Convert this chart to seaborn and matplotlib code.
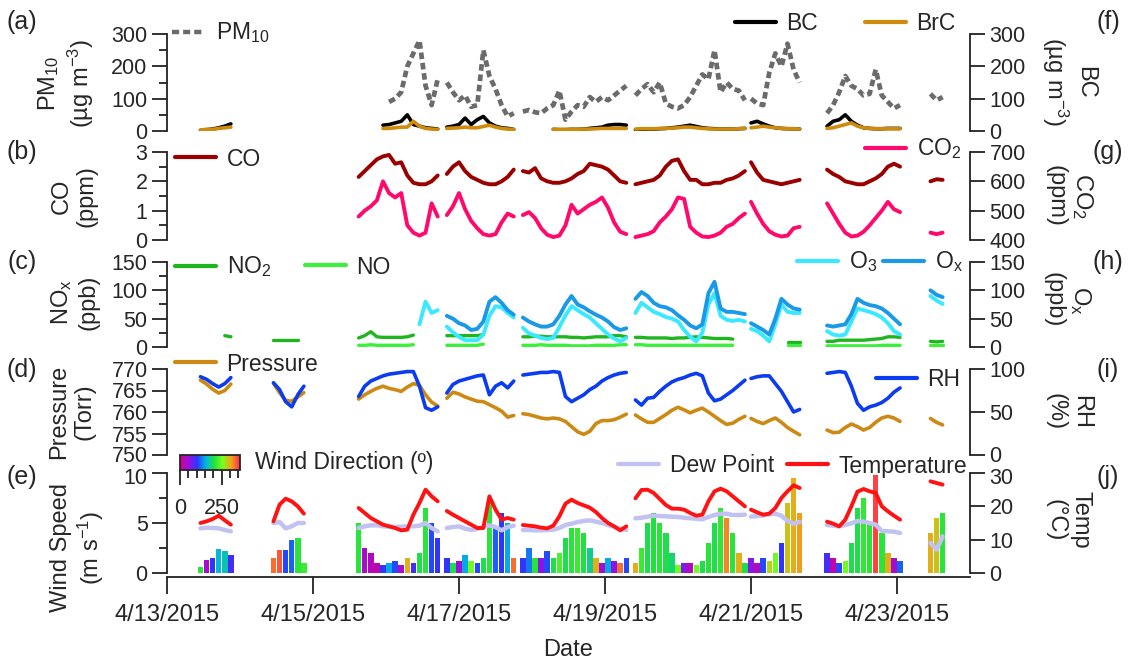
import numpy as np
import pandas as pd
import matplotlib
matplotlib.use("Agg")
import matplotlib.pyplot as plt
import matplotlib.dates as mdates
from matplotlib.colors import LinearSegmentedColormap, Normalize
from matplotlib.cm import ScalarMappable
from matplotlib.lines import Line2D
from matplotlib.ticker import MultipleLocator, FixedLocator, FixedFormatter
import seaborn as sns

nan = np.nan

# ---------------- data (2-hour samples within measurement segments) ----------------
seg_start_hour = [11, 35, 63, 92, 117, 154, 192, 217, 251]   # hours after 4/13/2015 00:00
seg_length = [6, 6, 14, 12, 18, 19, 9, 13, 3]
step_hours = 2

pm10 = ([nan]*6 + [nan]*6 +
        [nan, nan, nan, nan, nan, 90, 100, 120, 200, 240, 280, 140, 80, 160] +
        [150, 120, 95, 110, 75, 80, 250, 170, 130, 80, 45, 55] +
        [60, 65, 58, 55, 70, 80, 125, 35, 60, 80, 75, 105, 90, 105, 95, 110, 125, 140] +
        [110, 130, 145, 120, 150, 85, 75, 70, 80, 105, 140, 175, 160, 250, 120, 150, 130, 125, 95] +
        [100, 85, 80, 180, 240, 200, 270, 190, 150] +
        [55, 80, 120, 170, 140, 130, 110, 115, 190, 110, 90, 70, 80] +
        [115, 95, 105])
bc = ([2, 4, 6, 10, 15, 22] + [nan]*6 +
      [nan]*4 + [18, 20, 25, 30, 50, 20, 15, 10, 8, 6] +
      [12, 15, 20, 40, 20, 35, 45, 25, 15, 10, 8, 5] +
      [nan]*5 + [5, 4, 4, 5, 5, 6, 8, 10, 12, 18, 20, 20, 18] +
      [4, 5, 6, 6, 7, 8, 10, 12, 15, 18, 14, 10, 8, 7, 6, 6, 6, 7, 8] +
      [25, 30, 22, 15, 10, 8, 7, 7, 6] +
      [15, 30, 35, 50, 30, 18, 10, 8, 7, 7, 8, 8, 8] +
      [nan]*3)
brc = ([3, 5, 5, 8, 10, 12] + [nan]*6 +
       [nan]*4 + [8, 8, 10, 12, 12, 30, 15, 8, 6, 5] +
       [8, 9, 10, 12, 10, 10, 14, 18, 12, 8, 6, 5] +
       [nan]*5 + [5, 5, 5, 5, 5, 6, 6, 7, 8, 8, 8, 8, 8] +
       [6, 7, 7, 7, 8, 8, 9, 10, 12, 12, 10, 8, 7, 6, 6, 6, 6, 7, 8] +
       [10, 12, 15, 12, 10, 8, 7, 7, 6] +
       [8, 10, 15, 20, 25, 15, 10, 8, 7, 7, 7, 7, 7] +
       [nan]*3)
co = ([nan]*6 + [nan]*6 +
      [2.15, 2.35, 2.55, 2.75, 2.85, 2.9, 2.6, 2.65, 2.2, 1.95, 1.9, 1.9, 2.0, 2.2] +
      [2.25, 2.5, 2.65, 2.35, 2.15, 2.05, 1.95, 1.9, 1.9, 2.0, 2.15, 2.4] +
      [2.35, 2.3, 2.45, 2.1, 2.0, 1.95, 1.95, 2.0, 2.1, 2.25, 2.35, 2.6, 2.55, 2.5, 2.4, 2.2, 2.0, 1.95] +
      [1.9, 1.95, 2.0, 2.05, 2.2, 2.5, 2.7, 2.75, 2.35, 2.05, 2.05, 1.9, 1.9, 1.95, 1.95, 2.05, 2.1, 2.2, 2.35] +
      [2.65, 2.3, 2.05, 2.0, 1.95, 1.9, 1.95, 2.0, 2.05] +
      [2.4, 2.25, 2.15, 2.0, 1.95, 1.9, 1.9, 2.0, 2.1, 2.25, 2.5, 2.6, 2.5] +
      [2.0, 2.07, 2.05])
co2 = ([nan]*6 + [nan]*6 +
       [480, 500, 515, 535, 600, 560, 545, 560, 450, 425, 415, 425, 525, 480] +
       [485, 515, 560, 505, 465, 440, 420, 415, 420, 460, 490, 480] +
       [485, 495, 475, 440, 418, 410, 415, 450, 520, 490, 505, 520, 530, 545, 510, 460, 428, 420] +
       [410, 415, 420, 430, 460, 480, 505, 545, 540, 445, 425, 412, 410, 415, 425, 445, 455, 475, 490] +
       [530, 490, 455, 430, 418, 412, 415, 440, 445] +
       [525, 490, 455, 425, 412, 415, 428, 450, 475, 500, 530, 505, 495] +
       [425, 420, 425])
no2 = ([nan, nan, nan, nan, 20, 18] + [12, 12, 12, 12, 12, nan] +
       [16, 20, 27, 18, 17, 17, 17, 17, 18, 21, nan, nan, nan, nan] +
       [20, 20, 20, 20, 20, 20, 22, nan, nan, nan, nan, 8] +
       [18, 18, 19, 19, 18, 18, 18, 18, 17, 17, 16, 17, 18, 18, 18, 20, 20, 18] +
       [17, 17, 16, 16, 16, 16, 15, 16, 16, 17, 18, 17, 16, 15, 15, 15, 14, nan, nan] +
       [nan]*6 + [8, 8, 8] +
       [10, 10, 12, 12, 12, 12, 12, 13, 14, 15, 18, 18, 17] +
       [10, 9, 10])
no = ([nan]*6 + [nan]*6 +
      [3, 3, 4, 3, 3, 3, 3, 3, 3, 4, nan, nan, nan, nan] +
      [3, 3, 3, 3, 3, 3, 5, nan, nan, nan, nan, 4] +
      [3, 3, 3, 4, 3, 3, 3, 3, 2, 2, 2, 2, 3, 3, 3, 3, 4, 4] +
      [4, 4, 3, 3, 3, 3, 3, 3, 3, 3, 3, 3, 3, 3, 3, 3, 3, nan, nan] +
      [nan]*6 + [3, 3, 3] +
      [2, 2, 2, 2, 2, 2, 2, 2, 2, 3, 3, 3, 3] +
      [4, 4, 4])
o3 = ([nan]*6 + [nan]*6 +
      [nan]*10 + [40, 80, 60, 65] +
      [36, 26, 18, 12, 12, 12, 22, 55, 72, 70, 60, 52] +
      [34, 24, 20, 16, 14, 16, 35, 56, 72, 65, 58, 52, 42, 32, 22, 15, 10, 16] +
      [60, 78, 70, 62, 58, 53, 50, 45, 30, 18, 10, 25, 75, 95, 55, 48, 46, 48, 45] +
      [32, 28, 20, 10, 40, 75, 62, 60, 60] +
      [28, 22, 20, 22, 45, 68, 65, 62, 58, 52, 42, 28, 22] +
      [90, 82, 76])
ox = ([nan]*6 + [nan]*6 +
      [nan]*14 +
      [55, 50, 42, 38, 30, 32, 45, 80, 88, 78, 65, 57] +
      [52, 45, 40, 36, 36, 40, 55, 75, 90, 75, 70, 63, 57, 52, 45, 35, 30, 33] +
      [85, 97, 90, 78, 72, 70, 65, 56, 48, 38, 33, 40, 95, 115, 68, 62, 62, 60, 58] +
      [42, 36, 30, 22, 50, 85, 75, 68, 66] +
      [38, 36, 38, 40, 58, 85, 78, 74, 72, 68, 60, 50, 40] +
      [100, 92, 88])
pressure = ([767.4, 766.5, 765.3, 764.4, 765.0, 766.5] +
            [766.7, 764.5, 762.7, 762.5, 763.5, 764.5] +
            [763.0, 764.0, 764.8, 765.5, 766.0, 765.5, 765.2, 764.8, 765.8, 766.6, 766.2, 764.0, 762.3, 761.4] +
            [763.2, 764.6, 764.2, 763.5, 763.0, 762.5, 762.4, 761.7, 761.0, 760.2, 758.8, 759.2] +
            [759.6, 759.4, 759.0, 758.6, 758.4, 758.6, 758.4, 757.8, 756.6, 755.4, 754.8, 755.5, 757.3, 758.0, 758.0, 758.2, 758.8, 759.5] +
            [759.3, 758.4, 757.6, 757.6, 758.5, 759.4, 760.4, 761.1, 760.5, 759.8, 760.4, 760.9, 760.0, 759.0, 758.0, 757.1, 757.4, 758.3, 759.0] +
            [758.5, 757.8, 757.3, 758.0, 758.6, 757.6, 756.4, 755.5, 754.7] +
            [755.8, 755.2, 755.3, 756.4, 757.2, 756.6, 755.8, 756.4, 757.6, 758.6, 759.0, 758.6, 757.8] +
            [758.5, 757.6, 757.0])
rh = ([91, 88, 83, 79, 83, 90] + [84, 76, 62, 56, 70, 80] +
      [68, 80, 86, 89, 92, 94, 95, 96, 97, 97, 80, 55, 52, 56] +
      [72, 82, 86, 88, 90, 92, 93, 70, 80, 84, 78, 86] +
      [93, 94, 95, 96, 96, 97, 96, 68, 62, 66, 70, 76, 80, 86, 90, 93, 95, 96] +
      [64, 58, 66, 67, 74, 80, 85, 88, 90, 93, 95, 92, 72, 63, 65, 70, 75, 81, 87] +
      [89, 91, 92, 92, 83, 74, 62, 50, 53] +
      [95, 96, 97, 96, 80, 60, 52, 56, 58, 61, 66, 73, 78] +
      [nan]*3)
temperature = ([15.0, 15.5, 16.2, 17.2, 15.8, 14.5] + [15.5, 20.5, 22.3, 21.5, 20.0, 17.8] +
               [19.5, 18.0, 16.5, 15.5, 14.5, 14.0, 13.5, 12.8, 13.0, 17.5, 21.0, 25.0, 23.0, 21.5] +
               [18.6, 17.5, 16.5, 15.5, 14.5, 13.5, 13.5, 23.0, 19.0, 16.0, 16.5, 16.0] +
               [14.4, 14.2, 14.0, 13.6, 13.4, 14.2, 17.0, 20.8, 22.0, 21.0, 20.3, 19.6, 18.3, 16.5, 15.0, 14.0, 12.8, 14.0] +
               [22.4, 24.9, 25.0, 24.0, 22.2, 20.4, 19.3, 19.3, 19.0, 18.0, 17.2, 17.5, 21.5, 24.5, 25.3, 24.5, 23.0, 21.5, 20.0] +
               [19.0, 18.2, 17.5, 17.8, 19.5, 22.5, 24.5, 26.3, 25.5] +
               [15.4, 14.8, 14.0, 16.0, 20.0, 24.4, 25.2, 24.5, 24.0, 20.0, 18.5, 17.2, 16.0] +
               [27.5, 27.0, 26.5])
dew_point = ([13.4, 13.6, 13.5, 13.4, 12.9, 12.5] + [15.0, 15.3, 13.4, 14.0, 15.0, 15.0] +
             [13.5, 14.0, 14.3, 14.3, 14.0, 13.9, 13.8, 13.9, 14.0, 14.0, 14.2, 15.0, 13.5, 12.5] +
             [13.5, 13.8, 14.0, 13.3, 12.9, 13.2, 13.8, 14.3, 13.8, 12.8, 13.8, 14.2] +
             [12.9, 12.9, 12.8, 12.8, 12.9, 13.0, 13.5, 14.4, 14.8, 15.3, 15.6, 15.8, 15.4, 15.0, 14.4, 13.8, 13.2, 12.9] +
             [16.4, 16.6, 16.9, 17.2, 17.1, 17.0, 16.9, 16.8, 16.6, 16.4, 16.3, 16.1, 16.8, 17.4, 17.8, 17.8, 17.4, 17.4, 17.5] +
             [16.9, 17.1, 17.2, 17.6, 17.8, 17.2, 15.6, 14.8, 15.3] +
             [14.4, 14.2, 14.0, 14.4, 14.9, 15.6, 15.4, 15.0, 14.5, 12.6, 12.5, 12.4, 12.0] +
             [9.0, 7.0, 11.0])
wind_speed = ([0.6, 1.3, 1.5, 2.4, 2.2, 1.8] + [1.5, 2.3, 2.3, 3.3, 3.5, 1.0] +
              [5.0, 2.5, 2.0, 1.0, 0.8, 1.0, 1.2, 0.8, 1.5, 1.0, 2.0, 6.5, 5.0, 3.5] +
              [1.5, 1.0, 1.2, 1.8, 1.2, 1.0, 1.5, 7.0, 4.5, 6.0, 5.0, 1.5] +
              [1.5, 2.5, 1.5, 1.5, 2.2, 1.5, 2.0, 3.5, 4.5, 4.5, 4.0, 2.5, 1.5, 1.0, 1.5, 1.2, 1.0, 1.5] +
              [1.0, 2.5, 5.0, 6.0, 5.0, 4.0, 2.0, 0.8, 1.0, 1.0, 0.8, 1.2, 3.0, 5.0, 6.5, 5.5, 4.0, 2.0, 1.0] +
              [1.5, 1.0, 1.5, 1.2, 2.0, 3.0, 7.0, 9.5, 6.0] +
              [2.0, 1.5, 1.0, 1.2, 3.0, 6.5, 7.5, 5.0, 9.8, 4.0, 2.0, 1.5, 1.2] +
              [4.0, 5.5, 6.0])
wind_dir = ([210, 40, 100, 160, 170, 90] + [330, 340, 110, 120, 210, 220] +
            [210, 40, 30, 20, 100, 150, 110, 40, 300, 90, 200, 210, 110, 100] +
            [100, 200, 50, 150, 250, 110, 200, 210, 120, 100, 150, 330] +
            [100, 130, 210, 60, 110, 200, 230, 200, 210, 220, 205, 180, 300, 40, 150, 60, 330, 110] +
            [300, 220, 200, 205, 210, 200, 190, 250, 60, 30, 250, 200, 210, 200, 215, 320, 210, 300, 200] +
            [60, 30, 110, 280, 250, 100, 290, 300, 310] +
            [90, 20, 110, 250, 200, 200, 215, 210, 350, 210, 300, 40, 120] +
            [300, 290, 210])

date_ticks = ["2015-04-13", "2015-04-15", "2015-04-17", "2015-04-19", "2015-04-21", "2015-04-23"]

# ---------------- assemble table ----------------
hours, seg = [], []
for i, (s, n) in enumerate(zip(seg_start_hour, seg_length)):
    for k in range(n):
        hours.append(s + step_hours * k)
        seg.append(i)
t0 = pd.Timestamp("2015-04-13")
series = dict(PM10=pm10, BC=bc, BrC=brc, CO=co, CO2=co2, NO2=no2, NO=no, O3=o3, Ox=ox,
              P=pressure, RH=rh, T=temperature, DP=dew_point, WS=wind_speed, WD=wind_dir)
for k, v in series.items():
    assert len(v) == len(hours), (k, len(v), len(hours))
df = pd.DataFrame(series)
df["time"] = t0 + pd.to_timedelta(hours, unit="h")
df["seg"] = seg

# ---------------- style ----------------
sns.set_theme(style="ticks")
plt.rcParams["font.family"] = ["Liberation Sans", "DejaVu Sans"]
plt.rcParams["mathtext.fontset"] = "custom"
plt.rcParams["mathtext.rm"] = "Liberation Sans"
plt.rcParams["mathtext.it"] = "Liberation Sans"
plt.rcParams["mathtext.default"] = "regular"
FS = 17
TFS = 15.5
SP = "#222222"

W, H = 1129, 664
fig = plt.figure(figsize=(W / 100, H / 100), dpi=100)


def fx(px):
    return px / W


def fy(py):
    return 1 - py / H


def panel(top, bottom):
    return fig.add_axes([fx(167), fy(bottom), (970 - 167) / W, (bottom - top) / H])


def draw(ax, col, color, lw=2.6, **kw):
    s = df[col]
    brk = s.isna() | (df["seg"] != df["seg"].shift())
    d = df.assign(unit=brk.cumsum())[["time", col, "unit"]].dropna()
    sns.lineplot(data=d, x="time", y=col, units="unit", estimator=None, color=color,
                 lw=lw, ax=ax, legend=False, sort=False, **kw)
    ax.set_xlabel("")
    ax.set_ylabel("")


xlim = (t0, t0 + pd.Timedelta(days=11))


def style(ax, ax2, ylim, yticks, ylim2, yticks2, minor=None, bottom=False, hide_left=None, hide_right=None):
    for a in (ax, ax2):
        a.spines["top"].set_visible(False)
        for sp in a.spines.values():
            sp.set_linewidth(1.3)
            sp.set_color(SP)
        a.set_xlim(*xlim)
    ax.spines["bottom"].set_visible(bottom)
    ax2.spines["bottom"].set_visible(False)
    ax.spines["right"].set_visible(False)
    ax2.spines["left"].set_visible(False)
    ax.set_ylim(*ylim)
    ax.yaxis.set_major_locator(FixedLocator(yticks))
    ax.yaxis.set_major_formatter(FixedFormatter(
        ["" if v == hide_left else f"{v:g}" for v in yticks]))
    if minor is not None:
        ax.yaxis.set_minor_locator(MultipleLocator(minor))
    ax2.set_ylim(*ylim2)
    ax2.yaxis.set_major_locator(FixedLocator(yticks2))
    ax2.yaxis.set_major_formatter(FixedFormatter(
        ["" if v == hide_right else f"{v:g}" for v in yticks2]))
    ax.tick_params(axis="y", which="major", length=11, width=1.3, labelsize=TFS, color=SP, pad=3)
    ax.tick_params(axis="y", which="minor", length=6, width=1.3, color=SP, left=True)
    ax2.tick_params(axis="y", which="major", length=11, width=1.3, labelsize=TFS, color=SP, pad=3,
                    right=True, left=False, labelright=True, labelleft=False)
    ax2.tick_params(axis="y", which="minor", right=False, left=False)
    if not bottom:
        ax.tick_params(axis="x", which="both", bottom=False, labelbottom=False)
    ax.set_facecolor("white")
    ax.grid(False)
    ax2.grid(False)


def legend_entry(x, y, color, label, ls="-", hl=1.8, lw=3):
    h = Line2D([], [], color=color, lw=lw, ls=ls)
    fig.legend(handles=[h], labels=[label], loc="center left", bbox_to_anchor=(fx(x), fy(y)),
               frameon=False, fontsize=16.5, handlelength=hl, handletextpad=0.45,
               borderpad=0, borderaxespad=0)


c_pm = "#6b6b6b"
c_bc = "#000000"
c_brc = "#cf8c0c"
c_co = "#9b0000"
c_co2 = "#ff0a6c"
c_no2 = "#1fb51f"
c_no = "#3af03a"
c_o3 = "#3ae8ff"
c_ox = "#1a9ae6"
c_p = "#cc8a14"
c_rh = "#0c3cf0"
c_dp = "#c2c2f2"
c_t = "#ff1212"

# (a)/(f)
axa = panel(34, 131)
axa2 = axa.twinx()
draw(axa, "PM10", c_pm, lw=3.4, linestyle=(0, (1.4, 0.8)))
draw(axa2, "BC", c_bc, lw=2.6)
draw(axa2, "BrC", c_brc, lw=2.6)
style(axa, axa2, (0, 300), [0, 100, 200, 300], (0, 300), [0, 100, 200, 300], minor=50)

# (b)/(g)
axb = panel(152, 240)
axb2 = axb.twinx()
draw(axb, "CO", c_co, lw=2.8)
draw(axb2, "CO2", c_co2, lw=2.8)
style(axb, axb2, (0, 3), [0, 1, 2, 3], (400, 700), [400, 500, 600, 700], minor=0.5)

# (c)/(h)
axc = panel(262, 347)
axc2 = axc.twinx()
draw(axc, "NO2", c_no2, lw=2.4)
draw(axc, "NO", c_no, lw=2.4)
draw(axc2, "O3", c_o3, lw=2.8)
draw(axc2, "Ox", c_ox, lw=2.8)
style(axc, axc2, (0, 150), [0, 50, 100, 150], (0, 150), [0, 50, 100, 150], minor=25)

# (d)/(i)
axd = panel(369, 455)
axd2 = axd.twinx()
draw(axd, "P", c_p, lw=2.6)
draw(axd2, "RH", c_rh, lw=2.6)
style(axd, axd2, (750, 770), [750, 755, 760, 765, 770], (0, 100), [0, 50, 100],
      hide_left=750, hide_right=0)

# (e)/(j)
axe = panel(473, 573)
cmap = LinearSegmentedColormap.from_list(
    "wd", ["#d4008c", "#9a10e0", "#2a36ff", "#00b4e6", "#22e23c", "#7cff1c", "#f5a018", "#ff2a4e"])
norm = Normalize(0, 360)
axe.bar(df["time"], df["WS"], width=pd.Timedelta(hours=1.8), color=cmap(norm(df["WD"].values)),
        linewidth=0, align="center", zorder=2)
axe2 = axe.twinx()
draw(axe2, "DP", c_dp, lw=3.2)
draw(axe2, "T", c_t, lw=2.8)
style(axe, axe2, (0, 10), [0, 5, 10], (0, 30), [0, 10, 20, 30], minor=2.5, bottom=True,
      hide_left=10, hide_right=30)
axe.spines["bottom"].set_position(("outward", 3))
axe.xaxis.set_major_locator(FixedLocator(mdates.date2num(pd.to_datetime(date_ticks))))
axe.xaxis.set_major_formatter(mdates.DateFormatter("%-m/%d/%Y"))
axe.tick_params(axis="x", which="major", length=12, width=1.3, color=SP, labelsize=FS, pad=7)
axe.tick_params(axis="x", which="minor", bottom=False)

# tightly stacked tick labels at the (d)/(e) junction, nudged apart slightly
for x, y, s, ha in [(147.5, 456, "750", "right"), (147.5, 478, "10", "right"),
                    (989.5, 456, "0", "left"), (989.5, 478, "30", "left")]:
    fig.text(fx(x), fy(y), s, fontsize=TFS, ha=ha, va="center")

# colorbar for wind direction
cax = fig.add_axes([fx(180), fy(470), 60 / W, 15 / H])
cb = fig.colorbar(ScalarMappable(norm=norm, cmap=cmap), cax=cax, orientation="horizontal")
cb.set_ticks([0, 250])
cb.ax.xaxis.set_minor_locator(MultipleLocator(50))
cb.ax.tick_params(which="major", length=11, width=1.3, labelsize=TFS, pad=9, color=SP)
cb.ax.tick_params(which="minor", length=6, width=1.3, color=SP)
cb.outline.set_linewidth(1.3)
fig.text(fx(255), fy(463), "Wind Direction (º)", fontsize=16.5, va="center", ha="left")

# legends
legend_entry(172, 33, c_pm, "PM$_{10}$", ls=(0, (1.6, 0.9)), hl=1.45, lw=3.2)
legend_entry(735, 24, c_bc, "BC")
legend_entry(865, 24, c_brc, "BrC")
legend_entry(175, 159, c_co, "CO")
legend_entry(865, 149, c_co2, "CO$_2$")
legend_entry(175, 267, c_no2, "NO$_2$")
legend_entry(305, 267, c_no, "NO")
legend_entry(797, 262, c_o3, "O$_3$")
legend_entry(883, 262, c_ox, "O$_x$")
legend_entry(175, 364, c_p, "Pressure")
legend_entry(876, 380, c_rh, "RH")
legend_entry(618, 466, c_dp, "Dew Point")
legend_entry(787, 466, c_t, "Temperature")

# axis titles
left_labels = [(66, 83, "PM$_{10}$\n(µg m$^{-3}$)"), (74, 196, "CO\n(ppm)"), (74, 302, "NO$_x$\n(ppb)"),
               (72, 412, "Pressure\n(Torr)"), (78, 548, "Wind Speed\n(m s$^{-1}$)")]
for x, y, s in left_labels:
    fig.text(fx(x), fy(y), s, rotation=90, fontsize=FS, ha="center", va="center", multialignment="center")
right_labels = [(1068, 82, "BC\n(µg m$^{-3}$)"), (1070, 196, "CO$_2$\n(ppm)"), (1068, 300, "O$_x$\n(ppb)"),
                (1068, 412, "RH\n(%)"), (1068, 520, "Temp\n(°C)")]
for x, y, s in right_labels:
    fig.text(fx(x), fy(y), s, rotation=270, fontsize=FS, ha="center", va="center", multialignment="center")

for lab, y in zip(["(a)", "(b)", "(c)", "(d)", "(e)"], [22, 152, 262, 370, 477]):
    fig.text(fx(22), fy(y), lab, fontsize=18, ha="center", va="center")
for lab, y in zip(["(f)", "(g)", "(h)", "(i)", "(j)"], [22, 152, 262, 370, 477]):
    fig.text(fx(1108), fy(y), lab, fontsize=18, ha="center", va="center")

fig.text(fx(568), fy(650), "Date", fontsize=FS, ha="center", va="center")

fig.savefig("out.png", dpi=100)
